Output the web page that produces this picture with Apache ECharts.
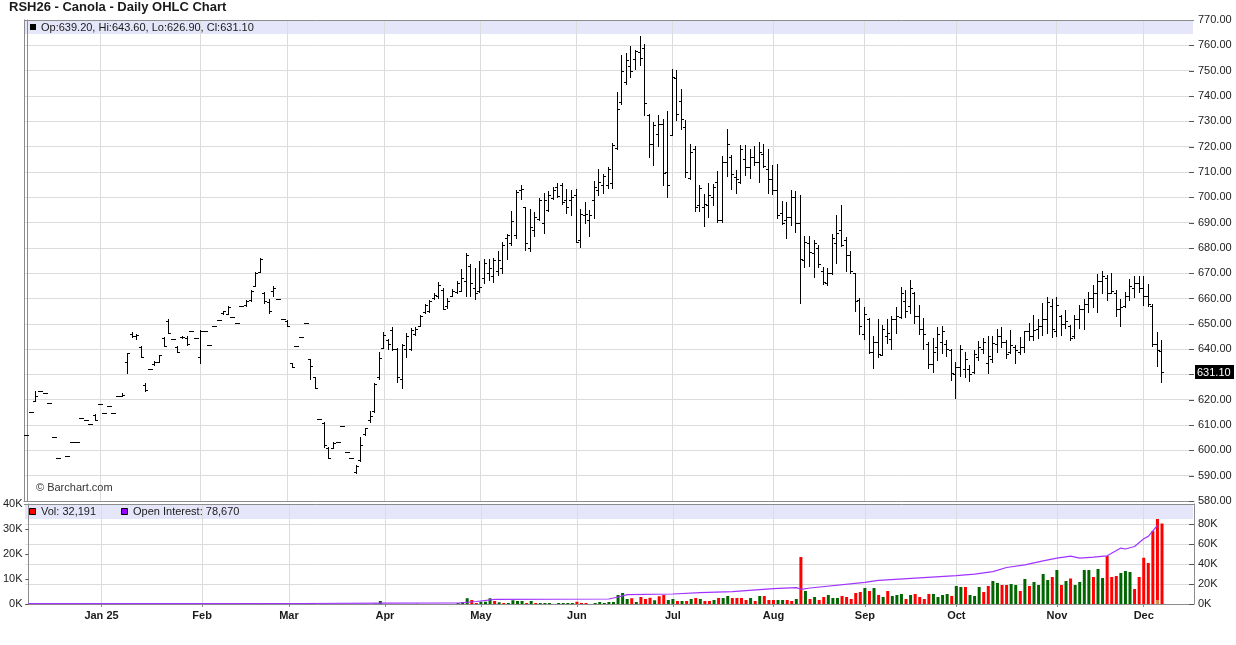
<!DOCTYPE html>
<html><head><meta charset="utf-8">
<script src="https://cdn.jsdelivr.net/npm/echarts@6/dist/echarts.min.js"></script>
<style>html,body{margin:0;padding:0;background:#fff}#c{width:1236px;height:645px}</style>
</head><body><div id="c"></div>
<script>
// ---- DATA ----
const opens = [606.2,615.2,619.4,623.6,622.8,618.7,605.3,597.0,null,597.8,603.4,603.4,612.8,612.1,610.6,614,618.3,614.9,617.6,614.9,621.6,621.6,634.8,646,645,641,626,632.3,634,635,644.5,651,643.8,641,644.7,644.5,647,644.4,637,647,641.8,649.3,651.3,654.2,654,652.6,650.4,657,657.5,659.5,665,670.5,662,658.5,663,659.6,651.7,651,634.5,641.4,644.7,650.3,636,628.8,612.3,611,601,601,603.2,609.6,599.2,596.8,591.5,596,606.3,612,615.5,629,640.5,643.5,647.5,640,628,640,640,646,649,654.5,655,660,661,663.5,657,661,662.5,663,667,673,664,663,668,670,669,671,672,684,682,685,703,696,680,687,691.5,690,695,699.5,704,705,699,699,701,683,693,691,699,703,705,705,705.7,719.5,737.5,745.5,752,754.5,757.5,759,732.5,721,725,729,710,724.5,747,738,727.7,707.5,719,697,696,697,700,706,691,714,716,708,706,715,712,716,714,717,711,707,703,693.6,691,692,700,690,675,682,678,680,671,666,670,682,687,683,677,670,659.5,646,652,639,643,637.5,645,644,652,652.5,659,657,662,653,648,642,634,641,643,642,639.5,630,633,632,632,631,637,640,634.4,636,642,645,643,639,641,639,641,647,645,648,649,652,657,647,653,650,649,645,652,656,658,660,662,667,668,662,662,656,657,661,664,666,664,661,657,642,639.2];
const highs = [606.2,615.2,623.3,623.6,622.8,618.7,605.3,597.0,null,597.8,603.4,603.4,612.8,612.1,610.6,614.5,618.3,614.9,617.6,614.9,621.6,622.5,638.5,646.8,646,641.4,626.6,632.3,635.2,637.8,644.8,651.7,643.8,641.4,645,645.1,647,644.4,647.5,647,641.8,649.3,651.3,655.2,656.9,652.6,650.4,657,659.3,663.3,670.5,675.8,662.7,659.6,665.1,659.6,651.7,651.3,634.5,641.4,644.7,650.3,636.2,629,612.3,611.2,601.4,603.2,603.2,609.6,599.2,596.8,594.2,605.4,609,615.5,626.8,638.8,646.8,643.8,648.8,640.3,642.2,646.2,648.2,648.8,653.4,657.8,659.3,662.2,666.6,664.2,660,663.7,667,671.7,677.9,673.6,672,674.9,675.6,675.7,676,678.9,682.3,685.6,694.7,703,705,696.1,695.4,694,699.7,701.7,702.3,704.1,705.6,705.6,703.3,703,703.4,695.5,698.1,695.1,706.3,711,709.2,712.1,721.4,741.6,756,757,759.6,758.3,763.6,760.7,732.8,729.7,732.4,731,734,750.8,750.1,742.9,730.4,721.2,720.1,704.7,701.2,705.7,705.1,710.3,716.2,726.8,716.6,710.7,720.5,720.5,719.2,720.1,721.8,720.9,719.2,712.6,713,698.7,698,702.9,702.5,701,684.5,684.5,683.1,681.2,672.3,671.9,685.5,693,697,684.2,678.8,670,660.1,656.5,652.2,645,651.8,649.5,651.8,653.1,656.5,664.4,663.4,667.3,662.7,657.4,652.4,643,644.3,648.9,649.1,643.6,640,635,641.6,639,633.7,639.6,643.2,644.3,645.2,645.2,647.8,648.9,643.6,647.5,641.6,644.7,647.3,650.5,653.5,651.8,658.4,660.5,659.7,660.5,653.5,655.5,649.5,653.5,657.5,659.7,662.7,665.4,669.7,671,669.3,670,663.4,659.7,662.7,667.6,668.7,669,669,665.8,658,646.8,643.6];
const lows = [606.2,615.2,619.4,623.6,622.8,618.7,605.3,597.0,null,597.8,603.4,603.4,612.8,612.1,610.6,611.9,618.3,614.9,617.6,614.9,621.6,621.6,630.6,644.7,643.8,636.8,623.3,632.3,633.9,634.8,641.1,646.4,643.8,638.9,644.5,641.5,647,644.4,634.5,647,641.8,649.3,651.3,654,654,652.6,650.4,657,657.2,659,664.8,670.5,658.3,654.3,660.9,659.6,651.7,649,632.9,641.4,644.7,650.3,628.3,624.6,612.3,601.2,596.8,600.8,603.2,609.6,599.2,596.8,591.2,595.9,606.1,611.3,615.3,628,640.3,639.9,639.6,627.1,624.5,637,639.6,645.5,649,654.1,654.7,659.6,660,655.8,656.2,660.8,662.1,662.8,660.8,660.8,659.7,662.4,666.1,667.4,666.7,669.4,670,675.6,681.2,683.7,699.3,679,678.6,684.5,691.1,685.9,694.4,699.3,700.1,697.3,693.8,693.1,682.3,680.2,690,684.5,691.6,700.7,701.6,703.8,703.7,719.2,737,744.9,747.5,750.8,752.4,732.4,715.7,712.9,720.3,704.7,700.1,724.5,730.4,726.8,708,707,694.6,694.6,688.6,692.2,696.8,690.3,690.3,708.3,703.4,701.8,705.7,708.7,707.6,712.6,706,712,701.8,701.4,691.6,689.6,683.7,689,686.4,658.4,672.3,672.8,668.6,672.6,665.7,665.3,669.7,674.2,680.8,671,670.2,655.2,646,643.9,638.3,632.4,636.8,637.5,642.3,639.9,646.5,652.2,652.8,654.2,650.2,646,639.9,632.4,631.1,635.7,638.3,637.3,627.8,620.6,629.4,629.1,627.5,630.4,635.7,638.6,630.7,635,639,641,636.4,638.5,634.4,638,639,643.6,643.6,644.3,645.6,646.5,644.7,645.2,645.6,648.2,643.6,644.5,648.2,647.8,654.8,656.8,654.8,662.1,659.2,662.1,653.1,649.2,656.8,659.2,660.5,662.7,657.5,657.2,641.2,633.5,626.9];
const closes = [606.2,615.2,621.4,623.6,622.8,618.7,605.3,597.0,null,597.8,603.4,603.4,612.8,612.1,610.6,612,618.3,614.9,617.6,614.9,621.6,621.8,638.3,645,645.5,637,624,632.3,635,637.5,641.2,646.5,643.8,639,644.7,642,647,644.4,647,647,641.8,649.3,651.3,655,656.5,652.6,650.4,657,659,663,670,675.5,659,655,664,659.6,651.7,649.3,633,641.4,644.7,650.3,633.3,624.7,612.3,602,597,603,603.2,609.6,599.2,596.8,594,602.3,608.8,613.6,626.4,636.4,645.5,642,640,629,641.5,645,647.5,648,653,657.5,659,661.5,665.5,656,659,663,666,668,677.3,666,662,664.7,674,672,675,675,681,685,690.5,702,703.3,681.9,688.2,692,699,699,701,703,700.5,698,696,700,682.5,693.5,693.5,693,704,706,708.5,711,720.8,735,750,754.3,750,757.6,755,737.2,721.2,728.7,729,709.7,705,747.5,733,731,710,718,696,703.5,697.5,701,704,691,714,721,709,707,719,712,716,714,718,712.5,707,703,693,690,692,700,690,675.5,682.5,678.5,682,673.5,666.5,670,684,686,681,677,671,659,649,654,639,643,638,648,646.5,652,653,662,655,664,653,648,646,634,639,646,647,640,630.5,633,640,636,630,638,641,643,637.3,642.5,645,643,638,641.5,639.5,641,647,645,647.5,649,652,658.5,648,657.5,650,651,644.5,652,656,658,660,662,667,669,662,663,656,656.5,661,665,666,664,661,658,642,639.5,631.1];

// volume (contracts) and up(1)/down(-1) day flag
const volumes = [0,0,300,0,0,0,0,0,0,0, 0,0,0,0,0,0,0,0,0,0, 0,0,0,0,0,0,0,0,0,0, 0,0,0,0,0,0,0,0,0,0, 0,0,0,0,0,0,0,0,0,0, 0,0,0,0,0,0,0,0,0,0, 0,0,0,0,0,0,0,0,0,0, 0,0,0,0,0,0,200,1200,0,0, 0,0,0,0,0,100,0,0,0,0, 0,0,0,0,400,800,2300,1600,400,900,
900,2300,1200,700,400,400,1500,1200,1200,400, 1200,400,400,400,400,0,400,400,400,400, 900,400,400,0,400,800,400,800,800,3600, 4400,2000,2300,800,2800,2000,2500,1500,3100,3600, 1600,2000,1200,1200,1200,2000,2400,2000,1200,1200, 1600,2400,2400,3200,2400,2400,2400,1600,2400,1200, 3200,3200,1600,1600,1600,1600,1600,1200,2000,18800,
5200,2000,2800,1600,2800,3600,2400,2400,3200,2800, 2000,4400,4800,6400,5200,6400,3600,2800,5200,3200, 3600,4000,2000,3600,4000,2800,2000,4000,4000,2800, 3600,4000,3200,7200,6800,6800,3600,3200,6800,4800, 7200,9200,8400,7600,7600,8000,7600,5200,10000,7200, 8800,7600,12000,9600,10800,13600,7600,9200,10200,7600, 8800,13600,13600,10800,14000,10400,19200,10800,11200,12400, 13200,12800,6000,10800,18500,16400,29200,34000,32191];
const volDir = [1,1,1,1,1,1,1,1,1,1, 1,1,1,1,1,1,1,1,1,1, 1,1,1,1,1,1,1,1,1,1, 1,1,1,1,1,1,1,1,1,1, 1,1,1,1,1,1,1,1,1,1, 1,1,1,1,1,1,1,1,1,1, 1,1,1,1,1,1,1,1,1,1, 1,1,1,1,1,1,1,1,1,1, 1,1,1,1,1,-1,1,1,1,1, 1,1,1,1,1,1,1,-1,-1,1,
1,1,-1,1,-1,1,1,1,1,-1, 1,-1,1,1,1,1,1,1,1,1, -1,-1,-1,1,1,1,1,1,1,1, 1,1,-1,1,-1,-1,-1,1,-1,-1, 1,1,-1,1,-1,1,-1,1,-1,-1, 1,-1,1,1,-1,-1,-1,-1,1,-1, 1,-1,-1,-1,1,1,-1,-1,1,-1,
1,-1,1,-1,-1,1,1,1,-1,-1, -1,-1,-1,1,-1,1,-1,1,-1,1, 1,1,-1,1,-1,-1,-1,-1,1,1, 1,1,-1,1,1,-1,1,1,1,-1, -1,1,1,-1,-1,1,1,-1,1,-1, 1,1,1,1,-1,1,-1,1,-1,1, 1,1,1,-1,1,1,-1,-1,-1,1, 1,1,-1,-1,-1,-1,-1,-1,-1];
const volCapIndex = 247, volCapAmount = 1600;

// open interest, read at points along the line: bar index and value
const oiIndex  = [0,60,78,94,98,102,127,129,131,141,147,154,163,168,169,171,183,186,203,207,211,214,218,222,225,228,230,233,236,239,240,242,244,245,247];
const oiValues = [300,500,800,1000,2500,4700,5000,7000,9300,10000,11400,12400,15400,16400,14700,16000,21700,23700,28400,29800,32400,36500,39100,43100,45800,47800,45800,46800,48200,55900,55000,57500,65200,67600,78670];

const monthStarts = [16,38,57,78,99,120,141,163,183,203,225,244];
const monthLabels = ['Jan 25','Feb','Mar','Apr','May','Jun','Jul','Aug','Sep','Oct','Nov','Dec'];

const titleText = 'RSH26 - Canola - Daily OHLC Chart';
const priceMin = 580, priceMax = 770, priceStep = 10;
const volMax = 40000, volStep = 10000, oiMax = 100000, oiStep = 20000;
const lastVol = 32191, lastOI = 78670;

// ---- CHART ----
const FONT = '"Liberation Sans", Arial, sans-serif';
const GREEN = '#006600', RED = '#ff0000', PURPLE = '#a033ff', GRID = '#dcdcdc', AX = '#8c8c8c';
const X_MIN = -0.612, X_MAX = 255;
const chart = echarts.init(document.getElementById('c'), null, {renderer: 'canvas'});

const last = closes.length - 1;
const ohlcData = [];
for (let i = 0; i < opens.length; i++) {
  if (opens[i] == null) continue;
  ohlcData.push([i, opens[i], highs[i], lows[i], closes[i]]);
}
const volData = volumes.map((v, i) => ({value: [i, v], itemStyle: {color: volDir[i] > 0 ? GREEN : RED}}));
const capData = volumes.map((v, i) => [i, i === volCapIndex ? volCapAmount : 0]);
const oiData = oiIndex.map((x, k) => [x, oiValues[k]]);

// axis tick values (for the inward tick marks on the right-hand axes)
const priceTickVals = [];
for (let v = priceMin; v <= priceMax; v += priceStep) priceTickVals.push([X_MAX, v]);
const oiTickVals = [];
for (let v = 0; v < oiMax; v += oiStep) oiTickVals.push([X_MAX, v]);

function renderOHLC(params, api) {
  const i = api.value(0);
  const pO = api.coord([i, api.value(1)]);
  const pH = api.coord([i, api.value(2)]);
  const pL = api.coord([i, api.value(3)]);
  const pC = api.coord([i, api.value(4)]);
  const x = Math.floor(pH[0]);
  const yH = Math.round(pH[1]), yL = Math.round(pL[1]);
  const yO = Math.round(pO[1]), yC = Math.round(pC[1]);
  const st = {fill: '#000'};
  return {type: 'group', children: [
    {type: 'rect', shape: {x: x, y: yH, width: 1, height: Math.max(1, yL - yH + 1)}, style: st},
    {type: 'rect', shape: {x: x - 2, y: yO, width: 2, height: 1}, style: st},
    {type: 'rect', shape: {x: x + 1, y: yC, width: 2, height: 1}, style: st}
  ]};
}
function renderTick(params, api) {
  const p = api.coord([api.value(0), api.value(1)]);
  const x = Math.round(p[0]), y = Math.round(p[1]);
  return {type: 'rect', shape: {x: x - 5, y: y, width: 5, height: 1}, style: {fill: '#555'}};
}

const xCommon = {
  type: 'value', min: X_MIN, max: X_MAX,
  axisLine: {show: true, lineStyle: {color: AX}},
  splitLine: {show: true, lineStyle: {color: GRID, width: 1}}
};
const fmtVol = v => (v / 1000) + 'K';
const fmt2 = n => n.toFixed(2);
const legendText = 'Op:' + fmt2(opens[last]) + ', Hi:' + fmt2(highs[last]) + ', Lo:' + fmt2(lows[last]) + ', Cl:' + fmt2(closes[last]);

const G0 = {left: 24, right: 42, top: 20, height: 481};
const G1 = {left: 24, right: 42, top: 504, height: 100};

const baseGraphic = [
  {type: 'rect', z: -1, silent: true, shape: {x: 25, y: 21, width: 1168, height: 13}, style: {fill: '#e6e6fa'}},
  {type: 'line', z: 5, silent: true, shape: {x1: 24, y1: 20.5, x2: 1194, y2: 20.5}, style: {stroke: AX, lineWidth: 1}},
  {type: 'rect', z: 10, shape: {x: 30, y: 24, width: 6, height: 6}, style: {fill: '#000'}},
  {type: 'text', z: 10, x: 41, y: 27.5, style: {text: legendText, font: '11px ' + FONT, fill: '#1a1a1a', verticalAlign: 'middle'}},
  {type: 'rect', z: -1, silent: true, shape: {x: 25, y: 505, width: 1168, height: 14}, style: {fill: '#e6e6fa'}},
  {type: 'line', z: 5, silent: true, shape: {x1: 24, y1: 504.5, x2: 1194, y2: 504.5}, style: {stroke: AX, lineWidth: 1}},
  {type: 'rect', z: 10, shape: {x: 29.5, y: 508.5, width: 6, height: 6}, style: {fill: RED, stroke: '#000', lineWidth: 1}},
  {type: 'text', z: 10, x: 41, y: 512, style: {text: 'Vol: ' + lastVol.toLocaleString('en-US'), font: '11px ' + FONT, fill: '#1a1a1a', verticalAlign: 'middle'}},
  {type: 'rect', z: 10, shape: {x: 121.5, y: 508.5, width: 6, height: 6}, style: {fill: '#9900ff', stroke: '#000', lineWidth: 1}},
  {type: 'text', z: 10, x: 133, y: 512, style: {text: 'Open Interest: ' + lastOI.toLocaleString('en-US'), font: '11px ' + FONT, fill: '#1a1a1a', verticalAlign: 'middle'}},
  {type: 'text', z: 10, x: 36, y: 488, style: {text: '\u00A9 Barchart.com', font: '11px ' + FONT, fill: '#333', verticalAlign: 'middle'}}
];

chart.setOption({
  animation: false,
  backgroundColor: '#fff',
  textStyle: {fontFamily: FONT},
  title: {text: titleText, left: 9, top: 1, padding: 0,
    textStyle: {fontSize: 13, fontWeight: 'bold', color: '#1a1a1a', fontFamily: FONT}},
  grid: [Object.assign({show: false}, G0), Object.assign({show: false}, G1)],
  xAxis: [
    Object.assign({}, xCommon, {gridIndex: 0,
      axisTick: {show: false, customValues: monthStarts},
      axisLabel: {show: false, customValues: monthStarts}}),
    Object.assign({}, xCommon, {gridIndex: 1,
      axisTick: {show: true, customValues: monthStarts, length: 3, lineStyle: {color: AX}},
      axisLabel: {show: true, customValues: monthStarts, margin: 6,
        fontSize: 11, fontWeight: 'bold', color: '#1a1a1a',
        formatter: v => monthLabels[monthStarts.indexOf(Math.round(v))] || ''}})
  ],
  yAxis: [
    {type: 'value', gridIndex: 0, position: 'right', min: priceMin, max: priceMax, interval: priceStep,
      axisLine: {show: true, lineStyle: {color: AX}},
      axisTick: {show: false},
      axisLabel: {margin: 4, fontSize: 11, color: '#222', formatter: v => v.toFixed(2)},
      splitLine: {show: true, lineStyle: {color: GRID}}},
    {type: 'value', gridIndex: 1, position: 'left', min: 0, max: volMax, interval: volStep,
      axisLine: {show: true, lineStyle: {color: AX}},
      axisTick: {show: true, length: 3, lineStyle: {color: '#555'}},
      axisLabel: {margin: 3, fontSize: 11, color: '#222', formatter: fmtVol},
      splitLine: {show: false}},
    {type: 'value', gridIndex: 1, position: 'right', min: 0, max: oiMax, interval: oiStep,
      axisLine: {show: true, lineStyle: {color: AX}},
      axisTick: {show: false},
      axisLabel: {margin: 4, fontSize: 11, color: '#222', formatter: v => v >= oiMax ? '' : fmtVol(v)},
      splitLine: {show: true, lineStyle: {color: GRID}}},
    {type: 'value', gridIndex: 0, position: 'left', min: priceMin, max: priceMax,
      axisLine: {show: true, lineStyle: {color: AX}},
      axisTick: {show: false}, axisLabel: {show: false}, splitLine: {show: false}}
  ],
  graphic: baseGraphic,
  series: [
    {type: 'custom', name: 'OHLC', xAxisIndex: 0, yAxisIndex: 0, renderItem: renderOHLC,
      encode: {x: 0, y: [1, 2, 3, 4]}, data: ohlcData, clip: true},
    {type: 'custom', name: 'priceTicks', xAxisIndex: 0, yAxisIndex: 0, renderItem: renderTick,
      encode: {x: 0, y: 1}, data: priceTickVals, silent: true, z: 4},
    {type: 'custom', name: 'oiTicks', xAxisIndex: 1, yAxisIndex: 2, renderItem: renderTick,
      encode: {x: 0, y: 1}, data: oiTickVals, silent: true, z: 4},
    {type: 'bar', name: 'Vol', xAxisIndex: 1, yAxisIndex: 1, barWidth: 3, stack: 'v', data: volData},
    {type: 'bar', name: 'VolCap', xAxisIndex: 1, yAxisIndex: 1, barWidth: 3, stack: 'v', data: capData,
      itemStyle: {color: '#d98c4a'}},
    {type: 'line', name: 'OI', xAxisIndex: 1, yAxisIndex: 2, data: oiData, showSymbol: false,
      lineStyle: {color: PURPLE, width: 1.2}, z: 3}
  ]
});

// last-price tag on the right axis, placed through the price scale
const yLast = chart.convertToPixel({yAxisIndex: 0}, closes[last]);
chart.setOption({graphic: baseGraphic.concat([
  {type: 'rect', z: 20, shape: {x: 1195, y: Math.round(yLast) - 7, width: 39, height: 14}, style: {fill: '#000'}},
  {type: 'text', z: 21, x: 1197, y: Math.round(yLast) + 0.5, style: {text: fmt2(closes[last]), font: '11px ' + FONT, fill: '#fff', verticalAlign: 'middle'}}
])});
</script></body></html>
